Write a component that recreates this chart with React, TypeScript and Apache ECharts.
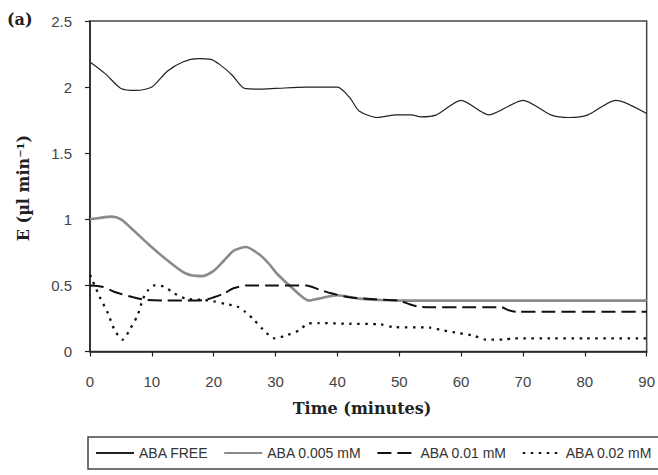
import React, { useEffect, useRef } from "react";
import * as echarts from "echarts";

const seriesNames = ["ABA FREE", "ABA 0.005 mM", "ABA 0.01 mM", "ABA 0.02 mM"];

const xTicks = [0, 10, 20, 30, 40, 50, 60, 70, 80, 90];
const yTicks = [0, 0.5, 1, 1.5, 2, 2.5];

const timeFree = [0, 2.5, 5, 7.5, 10, 12.5, 15, 17.5, 19.5, 21, 23, 25, 27.5, 30, 35, 40, 42, 43.5, 46.5, 49.5, 52, 53.5, 56, 60, 64.5, 70, 74.5, 77.5, 80.5, 85, 90];
const valFree = [2.19, 2.1, 1.99, 1.975, 2.0, 2.12, 2.19, 2.215, 2.21, 2.17, 2.09, 1.99, 1.985, 1.99, 2.0, 2.0, 1.92, 1.82, 1.77, 1.79, 1.79, 1.775, 1.79, 1.9, 1.79, 1.9, 1.79, 1.77, 1.79, 1.9, 1.8];

const time005 = [0, 1.5, 3.5, 5, 6.5, 9.5, 12.5, 15.5, 18, 20, 21.7, 23.3, 25.2, 27.5, 29, 30.2, 32.7, 35.4, 37, 40, 43.5, 47, 51.5, 60, 70, 80, 90];
const val005 = [1.0, 1.01, 1.02, 1.0, 0.94, 0.81, 0.69, 0.59, 0.57, 0.61, 0.69, 0.765, 0.79, 0.73, 0.66, 0.59, 0.48, 0.385, 0.4, 0.425, 0.4, 0.39, 0.385, 0.385, 0.385, 0.385, 0.385];

const time001 = [0, 2, 4, 7, 9, 12, 15, 18.5, 20, 21.7, 23.3, 25.5, 30, 35, 37, 39, 42, 46, 50, 51.5, 53, 55, 60, 66.5, 67.5, 69, 75, 80, 90];
const val001 = [0.5, 0.49, 0.45, 0.41, 0.39, 0.385, 0.385, 0.39, 0.41, 0.44, 0.48, 0.5, 0.5, 0.5, 0.47, 0.44, 0.41, 0.395, 0.385, 0.36, 0.34, 0.335, 0.335, 0.335, 0.315, 0.3, 0.3, 0.3, 0.3];

const time002 = [0, 1.6, 2.9, 4, 5.3, 6.6, 7.7, 8.5, 9.3, 10.4, 12, 13.6, 15.5, 18.5, 20, 21.9, 23.8, 25.1, 26.5, 27.9, 29.8, 31.9, 33.8, 35.2, 37, 42, 47, 49, 55, 57, 59.5, 62, 64, 67, 68.5, 75, 80, 90];
const val002 = [0.58, 0.41, 0.29, 0.16, 0.09, 0.18, 0.275, 0.39, 0.46, 0.5, 0.49, 0.44, 0.4, 0.39, 0.38, 0.36, 0.34, 0.3, 0.24, 0.17, 0.1, 0.125, 0.16, 0.21, 0.215, 0.21, 0.205, 0.185, 0.18, 0.16, 0.14, 0.12, 0.09, 0.09, 0.1, 0.1, 0.1, 0.1];

const zip = (t: number[], v: number[]) => t.map((x, i) => [x, v[i]]);

const SANS = "'Liberation Sans Narrow', 'Arial Narrow', 'Liberation Sans', Arial, sans-serif";
const LSANS = "'Liberation Sans', Arial, sans-serif";
const SERIF = "'DejaVu Serif', 'Liberation Serif', serif";

export default function App() {
  const ref = useRef<HTMLDivElement>(null);
  useEffect(() => {
    if (!ref.current) return;
    const chart = echarts.init(ref.current, undefined, { renderer: "svg" });
    const option: any = {
      animation: false,
      backgroundColor: "#ffffff",
      grid: {
        left: 90,
        right: 9,
        top: 21,
        bottom: 123.5,
        show: true,
        borderColor: "#444",
        borderWidth: 1.5,
        backgroundColor: "transparent",
      },
      xAxis: {
        type: "value",
        min: xTicks[0],
        max: xTicks[xTicks.length - 1],
        interval: 10,
        splitLine: { show: false },
        axisLine: { show: true, lineStyle: { color: "#222", width: 1.5 } },
        axisTick: { show: true, length: 5, lineStyle: { color: "#222", width: 1.2 } },
        axisLabel: { color: "#444", fontSize: 15, fontFamily: SANS, margin: 22 },
      },
      yAxis: {
        type: "value",
        min: yTicks[0],
        max: yTicks[yTicks.length - 1],
        interval: 0.5,
        splitLine: { show: false },
        axisLine: { show: true, lineStyle: { color: "#222", width: 1.5 } },
        axisTick: { show: true, length: 5, lineStyle: { color: "#222", width: 1.2 } },
        axisLabel: { color: "#444", fontSize: 15, fontFamily: SANS, margin: 18 },
      },
      legend: {
        left: 88,
        top: 437,
        width: 620,
        orient: "horizontal",
        padding: [9, 8, 9, 7],
        borderColor: "#444",
        borderWidth: 1.5,
        itemWidth: 38,
        itemHeight: 14,
        itemGap: 15,
        itemStyle: { color: "rgba(0,0,0,0)", borderWidth: 0, opacity: 0 },
        textStyle: { color: "#333", fontSize: 14, fontFamily: LSANS },
        data: seriesNames,
      },
      graphic: [
        {
          type: "text",
          left: 7,
          top: 11,
          style: { text: "(a)", font: `bold 16px ${SERIF}`, fill: "#222" },
        },
        {
          type: "text",
          x: 362,
          y: 408,
          style: {
            text: "Time (minutes)",
            font: `bold 16px ${SERIF}`,
            fill: "#222",
            textAlign: "center",
            textVerticalAlign: "middle",
          },
        },
        {
          type: "text",
          x: 23,
          y: 188,
          rotation: Math.PI / 2,
          style: {
            text: "E (µl min⁻¹)",
            font: `bold 16px ${SERIF}`,
            fill: "#222",
            textAlign: "center",
            textVerticalAlign: "middle",
          },
        },
      ],
      series: [
        {
          name: seriesNames[0],
          type: "line",
          data: zip(timeFree, valFree),
          symbol: "none",
          smooth: 0.25,
          lineStyle: { color: "#222", width: 1.2 },
          itemStyle: { color: "#222" },
        },
        {
          name: seriesNames[1],
          type: "line",
          data: zip(time005, val005),
          symbol: "none",
          smooth: 0.25,
          lineStyle: { color: "#8a8a8a", width: 2.6 },
          itemStyle: { color: "#8a8a8a" },
        },
        {
          name: seriesNames[2],
          type: "line",
          data: zip(time001, val001),
          symbol: "none",
          smooth: 0.25,
          lineStyle: { color: "#111", width: 2, type: [14, 6] },
          itemStyle: { color: "#111" },
        },
        {
          name: seriesNames[3],
          type: "line",
          data: zip(time002, val002),
          symbol: "none",
          smooth: 0.25,
          lineStyle: { color: "#111", width: 2.3, type: [2.5, 5.5] },
          itemStyle: { color: "#111" },
        },
      ],
    };
    chart.setOption(option);
    return () => chart.dispose();
  }, []);
  return (
    <div
      ref={ref}
      style={{ position: "fixed", left: 0, top: 0, width: 658, height: 475, background: "#fff" }}
    />
  );
}
